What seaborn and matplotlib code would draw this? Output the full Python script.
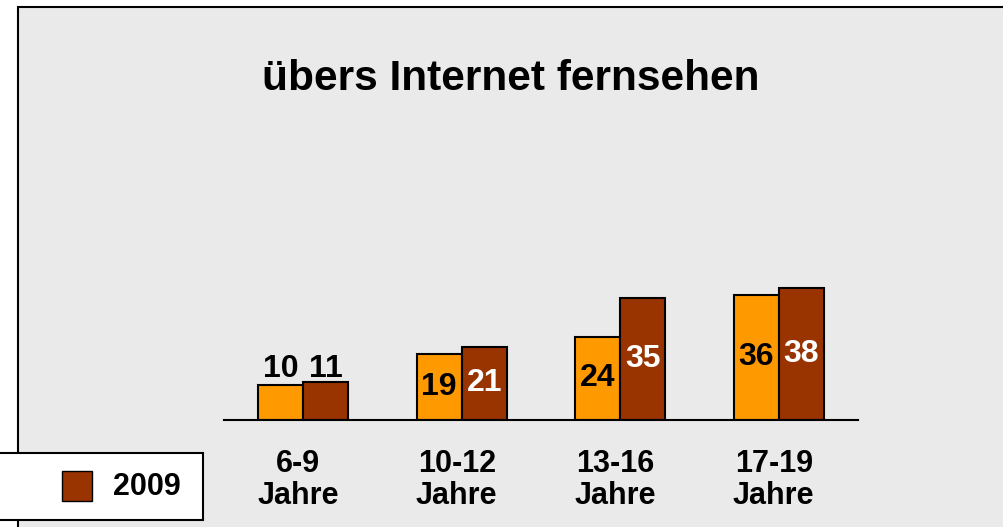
import pandas as pd
import matplotlib.pyplot as plt
import matplotlib.transforms as mtransforms
import seaborn as sns
from matplotlib.patches import Rectangle

# data
categories = ['6-9\nJahre', '10-12\nJahre', '13-16\nJahre', '17-19\nJahre']
years = ['2008', '2009']
values_2008 = [10, 19, 24, 36]
values_2009 = [11, 21, 35, 38]
colors = ['#FF9900', '#993300']

df = pd.DataFrame({
    'Alter': categories * 2,
    'Jahr': [years[0]] * 4 + [years[1]] * 4,
    'Wert': values_2008 + values_2009,
})

sns.set_style('white')
plt.rcParams['font.family'] = ['Liberation Sans', 'DejaVu Sans']
plt.rcParams['text.color'] = 'black'
plt.rcParams['xtick.color'] = 'black'
plt.rcParams['xtick.labelcolor'] = 'black'

W, H = 1004, 527
fig = plt.figure(figsize=(W / 100, H / 100), dpi=100)
fig.patch.set_facecolor('white')

# grey panel with black frame (top + left visible)
fig.patches.append(Rectangle((18 / W, -0.05), 1.1, 1 - 7 / H + 0.05,
                             transform=fig.transFigure, facecolor='#EAEAEA',
                             edgecolor='black', linewidth=1.5, zorder=-1))

fig.text(511 / W, 1 - 79 / H, 'übers Internet fernsehen', ha='center', va='center',
         fontsize=30.5, fontweight='bold')

ax = fig.add_axes([224 / W, 1 - 420 / H, 634 / W, 320 / H])
ax.set_facecolor('none')
sns.barplot(data=df, x='Alter', y='Wert', hue='Jahr', palette=colors, width=0.57,
            gap=0, saturation=1, edgecolor='black', linewidth=1.5, errorbar=None,
            legend=False, ax=ax)
ax.set_xlim(-0.5, 3.5)
ax.set_ylim(0, 92)

for i, cont in enumerate(ax.containers):
    for bar in cont:
        x = bar.get_x() + bar.get_width() / 2
        h = bar.get_height()
        if h < 15:
            ax.text(x, 14.6, f'{h:.0f}', ha='center', va='center', fontsize=23,
                    fontweight='bold', color='black')
        else:
            ax.text(x, h / 2, f'{h:.0f}', ha='center', va='center', fontsize=23,
                    fontweight='bold', color='black' if i == 0 else 'white')

for s in ['top', 'right', 'left']:
    ax.spines[s].set_visible(False)
ax.spines['bottom'].set_linewidth(1.5)
ax.spines['bottom'].set_color('black')
ax.set_yticks([])
ax.set_xlabel('')
ax.set_ylabel('')
ax.tick_params(axis='x', length=0, pad=21, labelsize=22)
shift = mtransforms.ScaledTranslation(-5 / 100, 0, fig.dpi_scale_trans)
for t in ax.get_xticklabels():
    t.set_fontweight('bold')
    t.set_linespacing(1.08)
    t.set_multialignment('center')
    t.set_transform(t.get_transform() + shift)

# legend box (only the 2009 entry is visible)
fig.patches.append(Rectangle((-10 / W, 1 - 520 / H), 213 / W, 67 / H,
                             transform=fig.transFigure, facecolor='white',
                             edgecolor='black', linewidth=1.5, zorder=5))
fig.patches.append(Rectangle((62 / W, 1 - 501 / H), 30 / W, 30 / H,
                             transform=fig.transFigure, facecolor=colors[1],
                             edgecolor='black', linewidth=1, zorder=6))
fig.text(113 / W, 1 - 487 / H, years[1], ha='left', va='center', fontsize=22,
         fontweight='bold', zorder=7)

fig.savefig('out.png', dpi=100)
